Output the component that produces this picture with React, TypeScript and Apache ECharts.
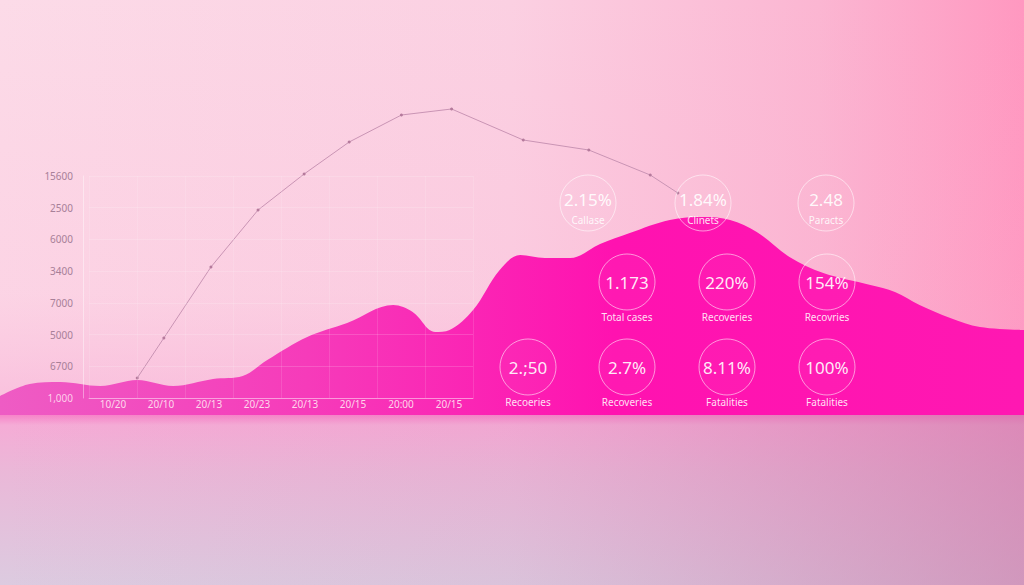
import React, { useEffect, useRef } from "react";
import * as echarts from "echarts";

// ---- data ----
const xLabels = ["10/20", "20/10", "20/13", "20/23", "20/13", "20/15", "20:00", "20/15"];
const yLabels = ["1,000", "6700", "5000", "7000", "3400", "6000", "2500", "15600"];

const lineX = [13.4, 16.0, 20.6, 25.2, 29.7, 34.1, 39.2, 44.1, 51.1, 57.5, 63.5, 66.2];
const lineY = [1879, 3911, 7517, 10412, 12241, 13866, 15238, 15543, 13968, 13460, 12190, 11276];

const areaX = [0, 2.9, 5.9, 9.8, 13.4, 16.9, 20.8, 23.7, 26.1, 30.0, 33.9, 38.4, 40.3, 42.5, 43.9, 46.2, 48.8, 50.8, 53.2, 55.7, 58.6, 61.5, 65.4, 68.7, 71.3, 73.9, 77.1, 80.4, 85.0, 87.4, 89.8, 92.8, 95.7, 100];
const areaY = [965, 1575, 1676, 1473, 1778, 1473, 1828, 1981, 2793, 3962, 4673, 5587, 5231, 4216, 4317, 5333, 7365, 8126, 7974, 7974, 8685, 9244, 9904, 10056, 9904, 9295, 8025, 7212, 6603, 6247, 5587, 4927, 4470, 4317];

const statValues = ["2.15%", "1.84%", "2.48", "1.173", "220%", "154%", "2.;50", "2.7%", "8.11%", "100%"];
const statLabels = ["Callase", "Clinets", "Paracts", "Total cases", "Recoveries", "Recovries", "Recoeries", "Recoveries", "Fatalities", "Fatalities"];

// ---- layout (positions of the stat badges) ----
const badgePos: [number, number, boolean][] = [
  [588, 203, true], [703, 203, true], [826, 203, true],
  [627, 282, false], [727, 282, false], [827, 282, false],
  [528, 367, false], [627, 367, false], [727, 367, false], [827, 367, false],
];

const FONT = "'Noto Sans', 'DejaVu Sans', sans-serif";

export default function App() {
  const ref = useRef<HTMLDivElement>(null);
  useEffect(() => {
    if (!ref.current) return;
    const chart = echarts.init(ref.current, null, { renderer: "svg" });

    const graphics: any[] = [
      {
        type: "rect", z: -20, silent: true,
        shape: { x: 0, y: 0, width: 1024, height: 420 },
        style: {
          fill: new echarts.graphic.LinearGradient(0, 0, 1, 0, [
            { offset: 0, color: "#fcdbe8" },
            { offset: 0.5, color: "#fbd0e2" },
            { offset: 0.8, color: "#fbb6d2" },
            { offset: 1, color: "#ff98c0" },
          ]),
        },
      },
      {
        type: "rect", z: -19, silent: true,
        shape: { x: 0, y: 0, width: 1024, height: 420 },
        style: {
          fill: new echarts.graphic.LinearGradient(0, 0, 0, 1, [
            { offset: 0, color: "rgba(255,160,200,0.0)" },
            { offset: 0.7, color: "rgba(250,170,210,0.15)" },
            { offset: 1, color: "rgba(245,150,205,0.45)" },
          ]),
        },
      },
      {
        type: "rect", z: -18, silent: true,
        shape: { x: 0, y: 413, width: 1024, height: 172 },
        style: {
          fill: new echarts.graphic.LinearGradient(0, 0, 0, 1, [
            { offset: 0, color: "#f77cc6" },
            { offset: 0.07, color: "#f5acd6" },
            { offset: 0.35, color: "#eab8d8" },
            { offset: 1, color: "#dccbe0" },
          ]),
        },
      },
      {
        type: "rect", z: -17, silent: true,
        shape: { x: 0, y: 413, width: 1024, height: 172 },
        style: {
          fill: new echarts.graphic.LinearGradient(0, 0, 1, 0, [
            { offset: 0, color: "rgba(200,120,170,0)" },
            { offset: 0.5, color: "rgba(200,120,170,0.1)" },
            { offset: 1, color: "rgba(200,110,160,0.55)" },
          ]),
        },
      },
    ];

    statValues.forEach((v, i) => {
      const [cx, cy, inside] = badgePos[i];
      graphics.push({
        type: "circle", z: 100, silent: true,
        shape: { cx, cy, r: 28 },
        style: { fill: "rgba(255,255,255,0.03)", stroke: "rgba(255,255,255,0.55)", lineWidth: 1 },
      });
      graphics.push({
        type: "text", z: 101, silent: true,
        x: cx, y: inside ? cy - 4 : cy,
        style: {
          text: v, fill: "rgba(255,255,255,0.92)", font: `17px ${FONT}`,
          align: "center", verticalAlign: "middle",
        },
      });
      graphics.push({
        type: "text", z: 101, silent: true,
        x: cx, y: inside ? cy + 17 : cy + 35,
        style: {
          text: statLabels[i], fill: "rgba(255,255,255,0.88)", font: `10px ${FONT}`,
          align: "center", verticalAlign: "middle",
        },
      });
    });

    chart.setOption({
      animation: false,
      backgroundColor: "transparent",
      textStyle: { fontFamily: FONT },
      grid: [
        { left: 89, top: 176, width: 384, height: 222 },
        { left: 0, right: 0, top: 100, bottom: 170 },
      ],
      xAxis: [
        {
          type: "category", gridIndex: 0, data: xLabels, boundaryGap: true, z: 10,
          axisLine: { show: true, lineStyle: { color: "rgba(255,255,255,0.4)" } },
          axisTick: { show: false },
          axisLabel: { color: "rgba(255,225,240,0.95)", fontSize: 10, margin: 1 },
          splitLine: { show: true, lineStyle: { color: "rgba(255,255,255,0.12)" } },
        },
        { type: "value", gridIndex: 1, min: 0, max: 100, show: false },
      ],
      yAxis: [
        {
          type: "category", gridIndex: 0, boundaryGap: false, z: 10, offset: 6,
          data: yLabels.map((l, i) =>
            i === 0 ? { value: l, textStyle: { color: "rgba(255,215,238,0.95)" } } : l
          ),
          axisLine: { show: true, lineStyle: { color: "rgba(255,255,255,0.4)" } },
          axisTick: { show: false },
          axisLabel: { color: "#a88098", fontSize: 10, margin: 10 },
          splitLine: { show: true, lineStyle: { color: "rgba(255,255,255,0.16)" } },
        },
        { type: "value", gridIndex: 1, min: 0, max: 16000, show: false },
      ],
      series: [
        {
          type: "line", xAxisIndex: 1, yAxisIndex: 1, z: 2,
          data: areaX.map((x, i) => [x, areaY[i]]),
          smooth: 0.35, showSymbol: false, symbol: "none",
          lineStyle: { width: 0 },
          areaStyle: {
            opacity: 1,
            color: new echarts.graphic.LinearGradient(0, 0, 1, 0, [
              { offset: 0, color: "#ee5cc4" },
              { offset: 0.3, color: "#f63bba" },
              { offset: 0.6, color: "#ff12b0" },
              { offset: 1, color: "#ff18b2" },
            ]),
          },
        },
        {
          type: "line", xAxisIndex: 1, yAxisIndex: 1, z: 3,
          data: lineX.map((x, i) => [x, lineY[i]]),
          symbol: "circle", symbolSize: 3, showSymbol: true,
          itemStyle: { color: "#b57a9c" },
          lineStyle: { color: "#c994b4", width: 1 },
        },
      ],
      graphic: graphics,
    });
    return () => chart.dispose();
  }, []);
  return (
    <div
      ref={ref}
      style={{ position: "absolute", left: 0, top: 0, width: 1024, height: 585 }}
    />
  );
}
